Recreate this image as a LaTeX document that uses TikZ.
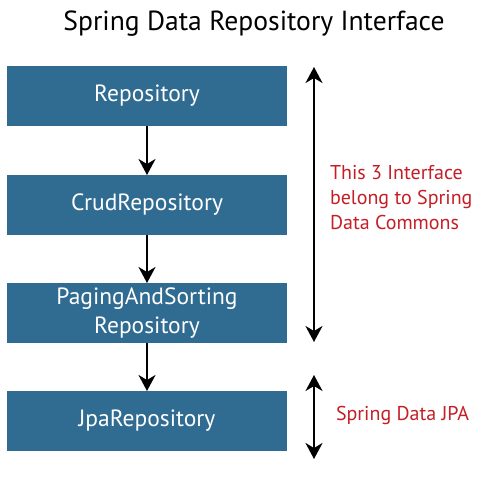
\documentclass[tikz,border=0pt]{standalone}
\usepackage{fontspec}
\setmainfont{PT Sans}
\usetikzlibrary{positioning,arrows.meta}
\definecolor{repoblue}{RGB}{48,107,146}
\definecolor{noteRed}{RGB}{196,30,38}
\tikzset{repo/.style={ fill = repoblue, text = white, rectangle, minimum width=280pt, minimum height=60pt, inner sep=0pt, outer sep=0pt, align=center, font=\fontsize{23.5}{29}\selectfont}}
\tikzset{note/.style={ text = noteRed, align=left, inner sep=0pt, font=\fontsize{20}{25}\selectfont}}

\begin{document}
\begin{tikzpicture}[x=1pt, y=-1pt, >={Stealth[length=16pt, width=17pt, inset=5pt]}, line width=2pt]
\useasboundingbox (0,0) rectangle (500,479);
\node[font=\fontsize{27.6}{30}\selectfont] (title) at (254,24) {Spring Data Repository Interface};
\node[repo] (repo) at (147,96) {Repository};
\node[repo, below=49pt of repo] (crud) {CrudRepository};
\node[repo, below=48pt of crud] (paging) {PagingAndSorting\\Repository};
\node[repo, below=48pt of paging] (jpa) {JpaRepository};
\draw[->] (repo) -- (crud);
\draw[->] (crud) -- (paging);
\draw[->] (paging) -- (jpa);
% the right hand markers
\coordinate (commonsTop) at (314,67);
\coordinate (commonsBot) at (314,342);
\coordinate (jpaTop) at (314,375);
\coordinate (jpaBot) at (314,459);
\draw[<->] (commonsTop) -- (commonsBot);
\draw[<->] (jpaTop) -- (jpaBot);
\node[note, anchor=west] (commons) at (329,198) {This 3 Interface\\belong to Spring\\Data Commons};
\node[note, anchor=west] (jpanote) at (335,415) {Spring Data JPA};
\end{tikzpicture}
\end{document}
